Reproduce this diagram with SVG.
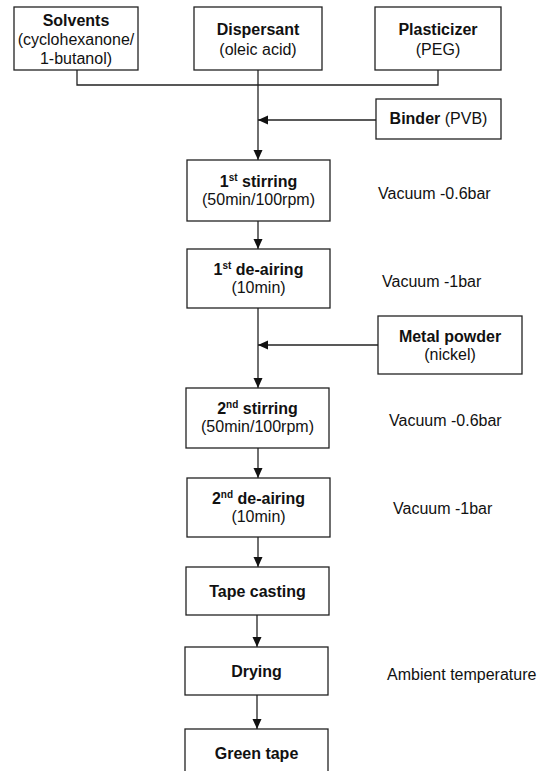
<svg xmlns="http://www.w3.org/2000/svg" width="548" height="771" viewBox="0 0 548 771">
<style>
.box{fill:#fff;stroke:#222;stroke-width:1.3}
.t{font-family:"Liberation Sans",Arial,sans-serif;font-size:16px;fill:#111;text-anchor:middle}
.b{font-weight:bold}
.s{font-family:"Liberation Sans",Arial,sans-serif;font-size:16px;fill:#111}
.sup{font-size:10px}
.ln{fill:none;stroke:#222;stroke-width:1.3}
</style>
<defs>
<marker id="ah" viewBox="0 0 10 10" refX="10" refY="5" markerWidth="10" markerHeight="10" markerUnits="userSpaceOnUse" orient="auto">
<path d="M0,0.5 L10,5 L0,9.5 Z" fill="#111"/>
</marker>
</defs>
<rect width="548" height="771" fill="#fff"/>
<g id="connectors">
<path class="ln" d="M77,70 V85 H438 V70"/>
<path class="ln" d="M258,70 V160" marker-end="url(#ah)"/>
<path class="ln" d="M376,120 H258" marker-end="url(#ah)"/>
<path class="ln" d="M258,221 V249" marker-end="url(#ah)"/>
<path class="ln" d="M258,308 V388" marker-end="url(#ah)"/>
<path class="ln" d="M378,345 H258" marker-end="url(#ah)"/>
<path class="ln" d="M258,448 V478" marker-end="url(#ah)"/>
<path class="ln" d="M258,537 V567" marker-end="url(#ah)"/>
<path class="ln" d="M257,615 V647" marker-end="url(#ah)"/>
<path class="ln" d="M257,695 V729" marker-end="url(#ah)"/>
</g>
<g id="solvents">
<rect class="box" x="14" y="7" width="124" height="63"/>
<text class="t b" x="76" y="26">Solvents</text>
<text class="t" x="76" y="45">(cyclohexanone/</text>
<text class="t" x="76" y="64">1-butanol)</text>
</g>
<g id="dispersant">
<rect class="box" x="194" y="7" width="128" height="63"/>
<text class="t b" x="258" y="35">Dispersant</text>
<text class="t" x="258" y="55">(oleic acid)</text>
</g>
<g id="plasticizer">
<rect class="box" x="375" y="7" width="126" height="63"/>
<text class="t b" x="438" y="35">Plasticizer</text>
<text class="t" x="438" y="55">(PEG)</text>
</g>
<g id="binder">
<rect class="box" x="376" y="99" width="125" height="40"/>
<text class="t" x="438.5" y="124"><tspan class="b">Binder</tspan> (PVB)</text>
</g>
<g id="stirring1">
<rect class="box" x="187" y="160" width="143" height="61"/>
<text class="t b" x="258.5" y="187">1<tspan class="sup" dy="-6">st</tspan><tspan dy="6"> stirring</tspan></text>
<text class="t" x="258.5" y="205">(50min/100rpm)</text>
</g>
<text class="s" x="378" y="199">Vacuum -0.6bar</text>
<g id="deairing1">
<rect class="box" x="187" y="249" width="143" height="59"/>
<text class="t b" x="258.5" y="275">1<tspan class="sup" dy="-6">st</tspan><tspan dy="6"> de-airing</tspan></text>
<text class="t" x="258.5" y="293">(10min)</text>
</g>
<text class="s" x="382" y="287">Vacuum -1bar</text>
<g id="metal">
<rect class="box" x="378" y="316" width="144" height="58"/>
<text class="t b" x="450" y="342">Metal powder</text>
<text class="t" x="450" y="360">(nickel)</text>
</g>
<g id="stirring2">
<rect class="box" x="186" y="388" width="143" height="60"/>
<text class="t b" x="257.5" y="414">2<tspan class="sup" dy="-6">nd</tspan><tspan dy="6"> stirring</tspan></text>
<text class="t" x="257.5" y="432">(50min/100rpm)</text>
</g>
<text class="s" x="389" y="426">Vacuum -0.6bar</text>
<g id="deairing2">
<rect class="box" x="187" y="478" width="143" height="59"/>
<text class="t b" x="258.5" y="504">2<tspan class="sup" dy="-6">nd</tspan><tspan dy="6"> de-airing</tspan></text>
<text class="t" x="258.5" y="522">(10min)</text>
</g>
<text class="s" x="393" y="514">Vacuum -1bar</text>
<g id="tapecasting">
<rect class="box" x="186" y="567" width="143" height="48"/>
<text class="t b" x="257.5" y="597">Tape casting</text>
</g>
<g id="drying">
<rect class="box" x="185" y="647" width="143" height="48"/>
<text class="t b" x="256.5" y="677">Drying</text>
</g>
<text class="s" x="387" y="680">Ambient temperature</text>
<g id="greentape">
<rect class="box" x="185" y="729" width="143" height="48"/>
<text class="t b" x="256.5" y="759">Green tape</text>
</g>
</svg>
